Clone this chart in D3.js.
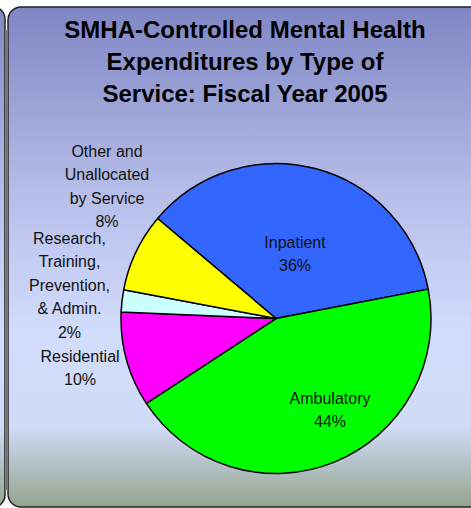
<!DOCTYPE html>
<html>
<head>
<meta charset="utf-8">
<script src="https://cdn.jsdelivr.net/npm/d3@7"></script>
<style>
  body { margin: 0; background: #fff; }
  text { font-family: "Liberation Sans", Arial, sans-serif; }
</style>
</head>
<body>
<div id="chart"></div>
<script>
// Data
var categories = ["Inpatient", "Ambulatory", "Residential",
  "Research, Training, Prevention, & Admin.", "Other and Unallocated by Service"];
var shares = [35.8, 43.8, 9.9, 2.3, 8.2];
var pctLabels = ["36%", "44%", "10%", "2%", "8%"];
var labelLines = [
  ["Inpatient", "36%"],
  ["Ambulatory", "44%"],
  ["Residential", "10%"],
  ["Research,", "Training,", "Prevention,", "& Admin.", "2%"],
  ["Other and", "Unallocated", "by Service", "8%"]
];
var titleLines = ["SMHA-Controlled Mental Health", "Expenditures by Type of", "Service: Fiscal Year 2005"];

var svgWidth = 471, svgHeight = 508;
var svg = d3.select("#chart").append("svg")
  .attr("width", svgWidth).attr("height", svgHeight);

// background gradient
var defs = svg.append("defs");
var grad = defs.append("linearGradient").attr("id", "bg")
  .attr("x1", 0).attr("y1", 0).attr("x2", 0).attr("y2", 1);
[[0, "#7f86c4"], [0.39, "#b8c0ea"], [0.65, "#d2dcfc"], [0.84, "#d0dbf8"], [1, "#94a48e"]]
  .forEach(function(s) {
    grad.append("stop").attr("offset", s[0]).attr("stop-color", s[1]);
  });

// neighbouring panel edge on the left
svg.append("rect")
  .attr("x", -30).attr("y", 7).attr("width", 35).attr("height", 500)
  .attr("rx", 12).attr("fill", "url(#bg)")
  .attr("stroke", "#222").attr("stroke-width", 1.5);

// main panel
svg.append("rect")
  .attr("x", 8).attr("y", 7).attr("width", 475).attr("height", 500)
  .attr("rx", 13).attr("fill", "url(#bg)")
  .attr("stroke", "#222").attr("stroke-width", 1.5);
svg.append("rect")
  .attr("x", 5).attr("y", 30).attr("width", 3).attr("height", 460)
  .attr("fill", "#777");

// title
svg.append("g").selectAll("text")
  .data(titleLines).enter().append("text")
  .attr("x", 245)
  .attr("y", (d, i) => 37.5 + i * 32)
  .attr("text-anchor", "middle")
  .attr("font-size", 24)
  .attr("font-weight", "bold")
  .attr("fill", "#000")
  .text(d => d);

// pie
var cx = 276, cy = 318.5, radius = 155;
var colors = d3.scaleOrdinal()
  .domain(categories)
  .range(["#3366ff", "#00ff00", "#ff00ff", "#ccffff", "#ffff00"]);

var pie = d3.pie()
  .sort(null)
  .startAngle(-49.8 * Math.PI / 180)
  .endAngle((360 - 49.8) * Math.PI / 180)
  .value(d => d.value);

var arc = d3.arc().innerRadius(0).outerRadius(radius);

var data = categories.map((c, i) => ({ name: c, value: shares[i], pct: pctLabels[i], lines: labelLines[i] }));

var pieGroup = svg.append("g").attr("transform", `translate(${cx}, ${cy})`);
pieGroup.selectAll("path")
  .data(pie(data)).enter().append("path")
  .attr("d", arc)
  .attr("fill", d => colors(d.data.name))
  .attr("stroke", "#000")
  .attr("stroke-width", 1.5)
  .attr("stroke-linejoin", "round");

// label positions (absolute), lines spaced 23.4px
var labelPos = [[295, 247.5], [330, 403.5], [80, 361.5], [69.5, 244], [107, 157]];
var lg = svg.append("g");
data.forEach(function(d, i) {
  lg.append("text")
    .attr("text-anchor", "middle")
    .attr("font-size", 16)
    .attr("fill", "#111")
    .selectAll("tspan")
    .data(d.lines).enter().append("tspan")
    .attr("x", labelPos[i][0])
    .attr("y", (t, j) => labelPos[i][1] + j * 23.4)
    .text(t => t);
});
</script>
</body>
</html>
